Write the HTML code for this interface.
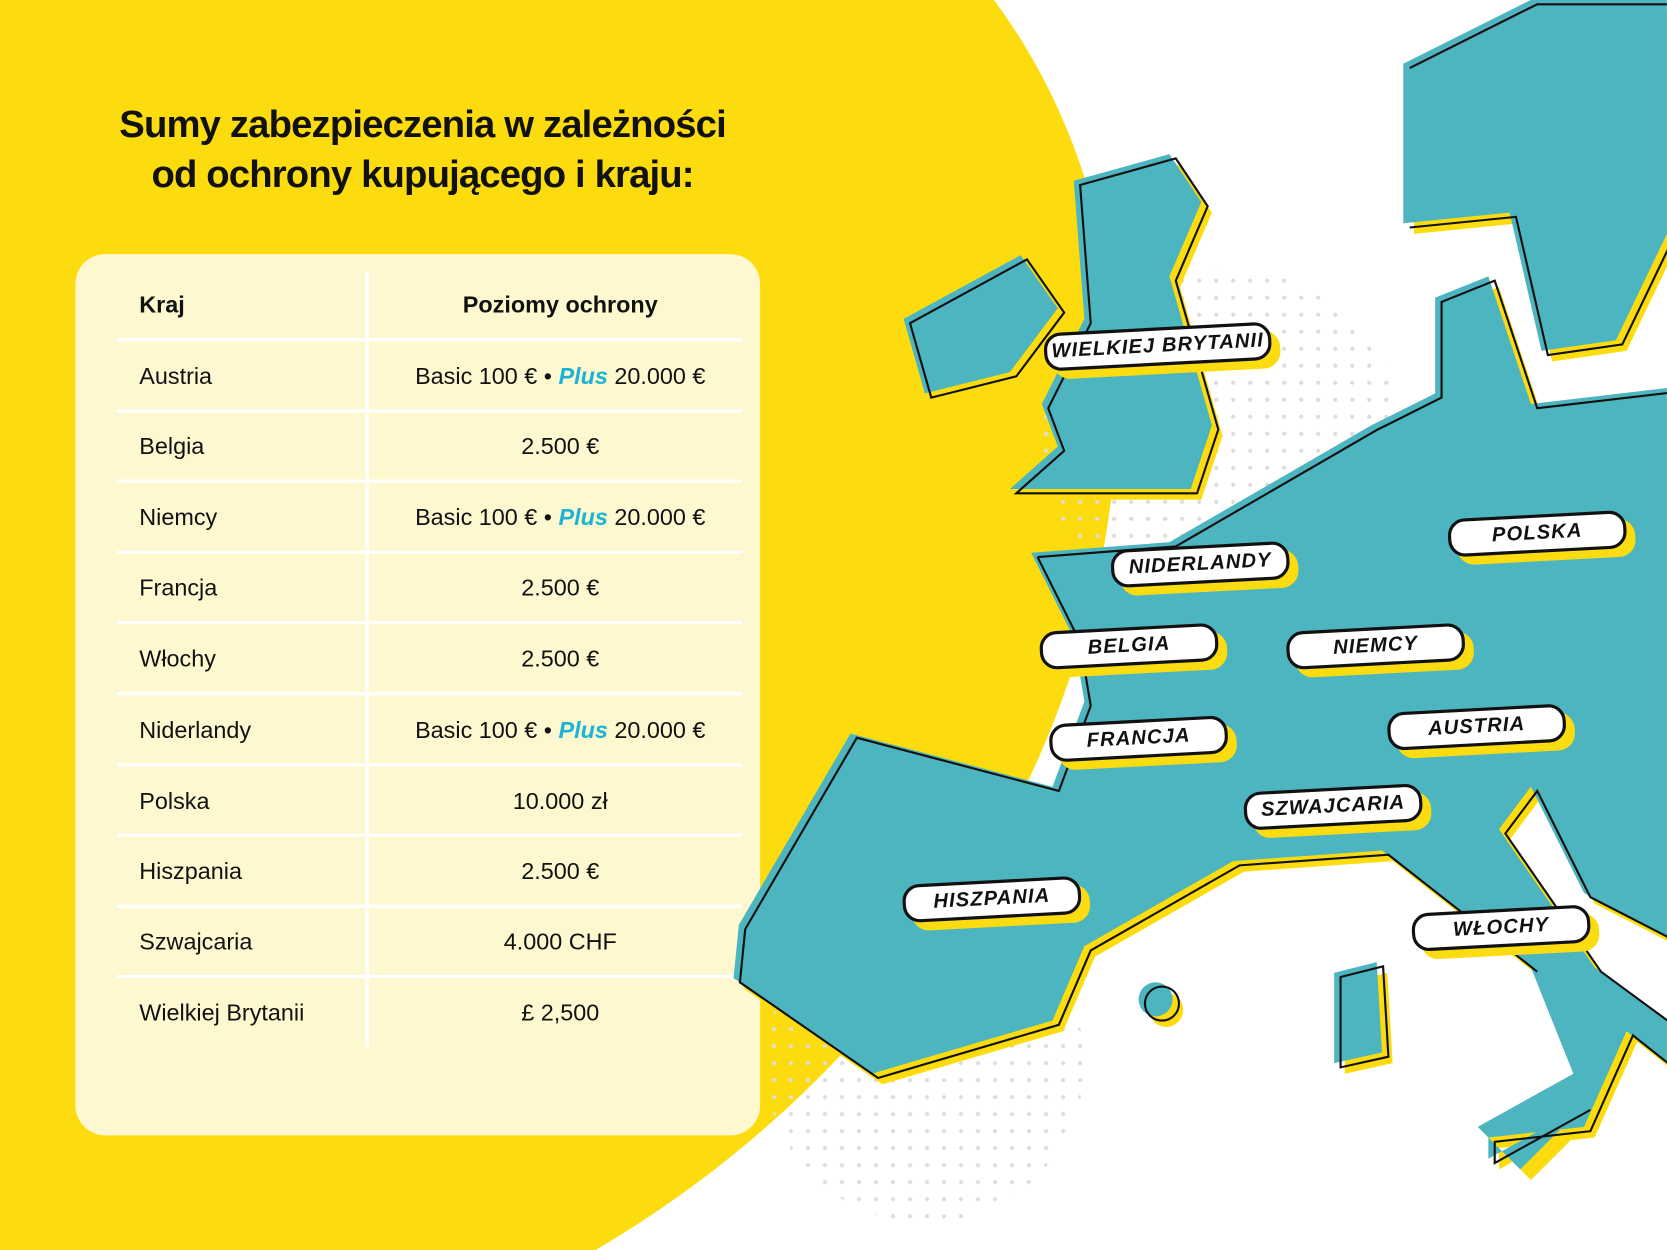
<!DOCTYPE html>
<html><head><meta charset="utf-8"><style>
html,body{margin:0;padding:0;width:1667px;height:1250px;overflow:hidden;background:#fff}
#w{position:absolute;left:0;top:0;width:1568px;height:1176px;transform:scale(1.0631);transform-origin:0 0;font-family:"Liberation Sans",sans-serif}
.t{position:absolute;left:0;width:795px;text-align:center;font-weight:bold;font-size:36px;color:#111;letter-spacing:-0.8px}
.card{position:absolute;left:71px;top:239px;width:644px;height:829px;background:#fdf8cf;border-radius:28px}
.r{position:absolute;left:110px;width:588px;height:3px;background:#fff}
.v{position:absolute;left:344px;top:255px;width:3px;height:730px;background:#fff}
.c1{position:absolute;left:131px;font-size:22px;color:#111}
.c2{position:absolute;left:346px;width:362px;text-align:center;font-size:22px;color:#111}
.p{color:#1cb4d6;font-style:italic;font-weight:bold}
.lb{position:absolute;height:30px;border:3px solid #111;border-radius:16px;background:#fff;box-shadow:8px 8px 0 #fbdc10;font-style:italic;font-weight:bold;font-size:19px;line-height:30px;text-align:center;transform:rotate(-3deg);color:#111;letter-spacing:1px}
</style></head><body><div id="w">
<svg width="1568" height="1176" style="position:absolute;left:0;top:0">
<defs><pattern id="d" width="16" height="16" patternUnits="userSpaceOnUse"><circle cx="8" cy="8" r="2" fill="#ddd"/></pattern></defs>
<path d="M0,0 L935,0 C1180,330 1030,900 560,1176 L0,1176 Z" fill="#fcdc0f"/>
<circle cx="1150" cy="420" r="170" fill="url(#d)"/>
<circle cx="870" cy="1000" r="150" fill="url(#d)"/>
</svg>
<div class="card"></div>
<div class="v"></div>
<div class="r" style="top:318px"></div><div class="r" style="top:385px"></div><div class="r" style="top:451px"></div><div class="r" style="top:518px"></div><div class="r" style="top:584px"></div><div class="r" style="top:651px"></div><div class="r" style="top:718px"></div><div class="r" style="top:784px"></div><div class="r" style="top:851px"></div><div class="r" style="top:917px"></div>
<svg width="1568" height="1176" style="position:absolute;left:0;top:0">
<g transform="translate(10,10)" fill="#fcdc0f">
<path d="M1320,60 L1440,0 L1568,0 L1568,220 L1520,320 L1450,330 L1420,200 L1320,210 Z"/>
<path d="M1010,170 L1100,145 L1130,190 L1100,260 L1140,400 L1120,460 L950,460 L995,420 L980,380 L1020,300 Z"/>
<path d="M850,300 L960,240 L995,290 L950,350 L870,370 Z"/>
<path d="M970,520 L1100,510 L1290,400 L1350,370 L1350,280 L1400,260 L1440,380 L1568,365 L1568,880 L1490,840 L1440,740 L1410,780 L1500,910 L1568,960 L1568,1000 L1530,970 L1490,1060 L1400,1070 L1400,1090 L1490,1040 L1430,1100 L1390,1060 L1480,1010 L1440,910 L1300,800 L1160,810 L1020,890 L990,960 L820,1010 L690,920 L695,870 L800,690 L990,740 L1020,660 L1010,600 Z"/>
<path d="M1255,915 L1295,905 L1300,990 L1255,1000 Z"/><circle cx="1087" cy="940" r="16"/>
</g>
<g fill="#4db5bf" stroke="none">
<path d="M1320,60 L1440,0 L1568,0 L1568,220 L1520,320 L1450,330 L1420,200 L1320,210 Z"/>
<path d="M1010,170 L1100,145 L1130,190 L1100,260 L1140,400 L1120,460 L950,460 L995,420 L980,380 L1020,300 Z"/>
<path d="M850,300 L960,240 L995,290 L950,350 L870,370 Z"/>
<path d="M970,520 L1100,510 L1290,400 L1350,370 L1350,280 L1400,260 L1440,380 L1568,365 L1568,880 L1490,840 L1440,740 L1410,780 L1500,910 L1568,960 L1568,1000 L1530,970 L1490,1060 L1400,1070 L1400,1090 L1490,1040 L1430,1100 L1390,1060 L1480,1010 L1440,910 L1300,800 L1160,810 L1020,890 L990,960 L820,1010 L690,920 L695,870 L800,690 L990,740 L1020,660 L1010,600 Z"/>
<path d="M1255,915 L1295,905 L1300,990 L1255,1000 Z"/><circle cx="1087" cy="940" r="16"/>
</g>
<g fill="none" stroke="#111" stroke-width="2" transform="translate(6,4)">
<path d="M1320,60 L1440,0 L1568,0"/>
<path d="M1568,220 L1520,320 L1450,330 L1420,200 L1320,210"/>
<path d="M1010,170 L1100,145 L1130,190 L1100,260 L1140,400 L1120,460 L950,460 L995,420 L980,380 L1020,300 Z"/>
<path d="M850,300 L960,240 L995,290 L950,350 L870,370 Z"/>
<path d="M970,520 L1100,510 L1290,400 L1350,370 L1350,280 L1400,260 L1440,380 L1568,365"/>
<path d="M1568,880 L1490,840 L1440,740 L1410,780 L1500,910 L1568,960"/>
<path d="M1568,1000 L1530,970 L1490,1060 L1400,1070 L1400,1090 L1490,1040"/>
<path d="M1440,910 L1300,800 L1160,810 L1020,890 L990,960 L820,1010 L690,920 L695,870 L800,690 L990,740 L1020,660 L1010,600 L970,520"/>
<path d="M1255,915 L1295,905 L1300,990 L1255,1000 Z"/><circle cx="1087" cy="940" r="16"/>
</g>
</svg>
<div class="t" style="top:96px">Sumy zabezpieczenia w zależności</div>
<div class="t" style="top:143px">od ochrony kupującego i kraju:</div>
<div class="c1" style="top:274px;font-weight:bold">Kraj</div><div class="c2" style="top:274px;font-weight:bold">Poziomy ochrony</div>
<div class="c1" style="top:341px">Austria</div><div class="c2" style="top:341px">Basic 100 € • <span class="p">Plus</span> 20.000 €</div>
<div class="c1" style="top:407px">Belgia</div><div class="c2" style="top:407px">2.500 €</div>
<div class="c1" style="top:474px">Niemcy</div><div class="c2" style="top:474px">Basic 100 € • <span class="p">Plus</span> 20.000 €</div>
<div class="c1" style="top:540px">Francja</div><div class="c2" style="top:540px">2.500 €</div>
<div class="c1" style="top:607px">Włochy</div><div class="c2" style="top:607px">2.500 €</div>
<div class="c1" style="top:674px">Niderlandy</div><div class="c2" style="top:674px">Basic 100 € • <span class="p">Plus</span> 20.000 €</div>
<div class="c1" style="top:741px">Polska</div><div class="c2" style="top:741px">10.000 zł</div>
<div class="c1" style="top:807px">Hiszpania</div><div class="c2" style="top:807px">2.500 €</div>
<div class="c1" style="top:873px">Szwajcaria</div><div class="c2" style="top:873px">4.000 CHF</div>
<div class="c1" style="top:940px">Wielkiej Brytanii</div><div class="c2" style="top:940px">£ 2,500</div>
<div class="lb" style="left:982px;top:308px;width:208px">WIELKIEJ BRYTANII</div>
<div class="lb" style="left:1045px;top:513px;width:162px">NIDERLANDY</div>
<div class="lb" style="left:1362px;top:484px;width:162px">POLSKA</div>
<div class="lb" style="left:978px;top:590px;width:162px">BELGIA</div>
<div class="lb" style="left:1210px;top:590px;width:162px">NIEMCY</div>
<div class="lb" style="left:987px;top:677px;width:162px">FRANCJA</div>
<div class="lb" style="left:1305px;top:666px;width:162px">AUSTRIA</div>
<div class="lb" style="left:1170px;top:741px;width:162px">SZWAJCARIA</div>
<div class="lb" style="left:849px;top:828px;width:162px">HISZPANIA</div>
<div class="lb" style="left:1328px;top:855px;width:162px">WŁOCHY</div>
</div></body></html>
